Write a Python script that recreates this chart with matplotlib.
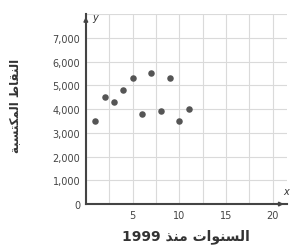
import matplotlib
matplotlib.use("Agg")
import matplotlib.pyplot as plt
from matplotlib.ticker import MultipleLocator, FuncFormatter

# data
years = [1, 2, 3, 4, 5, 6, 7, 8, 9, 10, 11]
points = [3500, 4500, 4300, 4800, 5300, 3800, 5500, 3900, 5300, 3500, 4000]
x_ticks = [5, 10, 15, 20]
y_ticks = [0, 1000, 2000, 3000, 4000, 5000, 6000, 7000]
x_title = "السنوات منذ 1999"
y_title = "النقاط المكتسبة"

# small arabic shaper (matplotlib does no shaping / bidi)
forms = {
    "ا": ("\uFE8D", "\uFE8E", None, None),
    "ب": ("\uFE8F", "\uFE90", "\uFE91", "\uFE92"),
    "ة": ("\uFE93", "\uFE94", None, None),
    "ت": ("\uFE95", "\uFE96", "\uFE97", "\uFE98"),
    "ذ": ("\uFEAB", "\uFEAC", None, None),
    "س": ("\uFEB1", "\uFEB2", "\uFEB3", "\uFEB4"),
    "ط": ("\uFEC1", "\uFEC2", "\uFEC3", "\uFEC4"),
    "ق": ("\uFED5", "\uFED6", "\uFED7", "\uFED8"),
    "ك": ("\uFED9", "\uFEDA", "\uFEDB", "\uFEDC"),
    "ل": ("\uFEDD", "\uFEDE", "\uFEDF", "\uFEE0"),
    "م": ("\uFEE1", "\uFEE2", "\uFEE3", "\uFEE4"),
    "ن": ("\uFEE5", "\uFEE6", "\uFEE7", "\uFEE8"),
    "و": ("\uFEED", "\uFEEE", None, None),
}


def shape_word(w):
    out = []
    for i, c in enumerate(w):
        if c not in forms:
            out.append(c)
            continue
        prev_joins = i > 0 and w[i - 1] in forms and forms[w[i - 1]][2] is not None
        next_ok = i < len(w) - 1 and w[i + 1] in forms and forms[c][2] is not None
        iso, fin, ini, med = forms[c]
        if prev_joins and next_ok:
            out.append(med)
        elif prev_joins:
            out.append(fin)
        elif next_ok:
            out.append(ini)
        else:
            out.append(iso)
    return "".join(out)


def arabic(s):
    words = s.split(" ")
    vis = []
    for w in reversed(words):
        if any(c in forms for c in w):
            vis.append(shape_word(w)[::-1])
        else:
            vis.append(w)
    return " ".join(vis)


fig = plt.figure(figsize=(2.91, 2.51), dpi=100)
ax = fig.add_axes([0.295, 0.183, 0.69, 0.757])

ax.scatter(years, points, s=22, color="#555555", zorder=3, linewidths=0)

ax.set_xlim(0, 21.5)
ax.set_ylim(0, 8000)
ax.xaxis.set_minor_locator(MultipleLocator(2.5))
ax.yaxis.set_minor_locator(MultipleLocator(1000))
ax.set_xticks(x_ticks)
ax.set_yticks(y_ticks)
ax.yaxis.set_major_formatter(FuncFormatter(lambda v, p: "{:,}".format(int(v))))
ax.grid(True, which="both", color="#dadada", linewidth=0.8)
ax.set_axisbelow(True)
ax.tick_params(which="both", length=0, labelsize=7, labelcolor="#444444", pad=4)

for s in ["top", "right"]:
    ax.spines[s].set_visible(False)
for s in ["left", "bottom"]:
    ax.spines[s].set_color("#444444")
    ax.spines[s].set_linewidth(1.5)

# arrows and axis letters
ax.annotate("", xy=(0, 1.0), xytext=(0, 0.95), xycoords="axes fraction",
            arrowprops=dict(arrowstyle="-|>", color="#444444", lw=1.2, mutation_scale=6))
ax.annotate("", xy=(1.0, 0), xytext=(0.95, 0), xycoords="axes fraction",
            arrowprops=dict(arrowstyle="-|>", color="#444444", lw=1.2, mutation_scale=6))
ax.text(0.03, 0.985, "y", transform=ax.transAxes, fontsize=7, style="italic",
        va="center", ha="left", color="#333333")
ax.text(0.995, 0.04, "x", transform=ax.transAxes, fontsize=7, style="italic",
        va="bottom", ha="center", color="#333333")

ax.set_xlabel(arabic(x_title), fontsize=10, fontweight="bold", color="#333333")
ax.xaxis.set_label_coords(0.5, -0.13)
ax.xaxis.label.set_va("top")
ax.set_ylabel(arabic(y_title), fontsize=8.5, fontweight="bold", color="#333333")
ax.yaxis.set_label_coords(-0.32, 0.52)

fig.savefig("out.png", dpi=100)
